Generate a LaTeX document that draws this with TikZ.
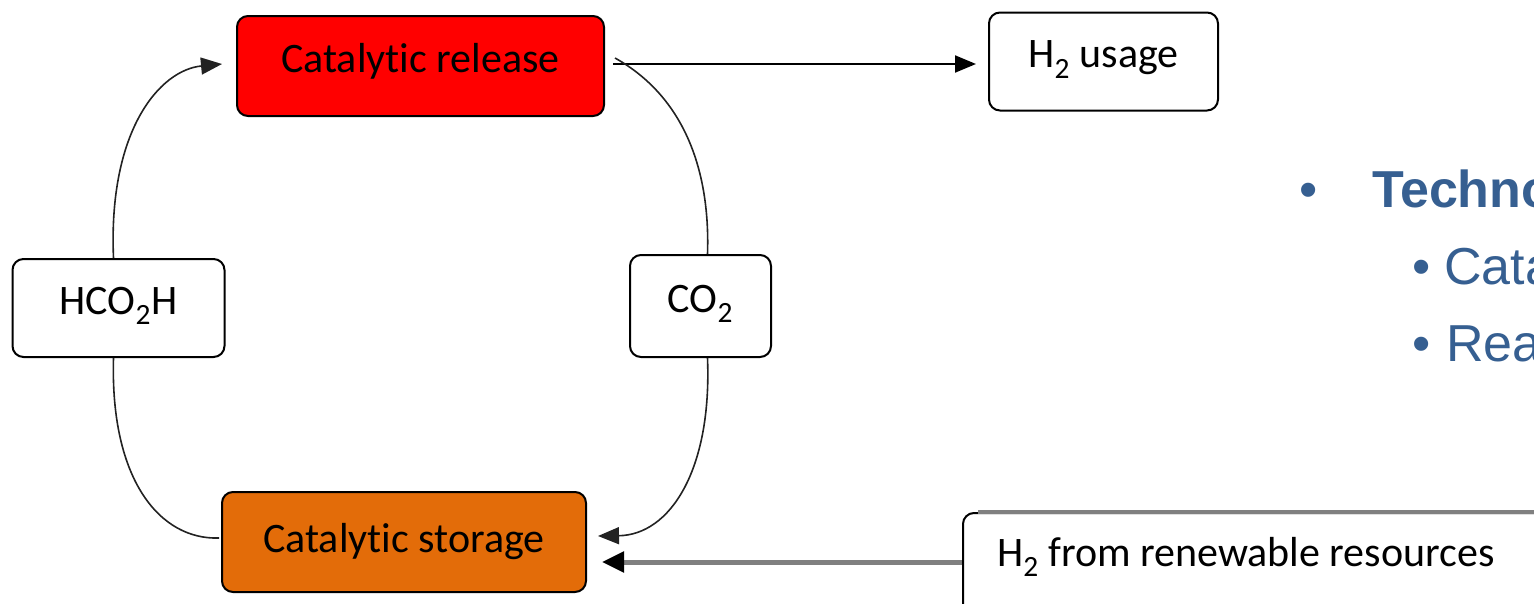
\documentclass[tikz,border=0pt]{standalone}
\usepackage{fontspec}
\setmainfont{Liberation Sans}
\newfontfamily\boxfont{Carlito}[Ligatures={NoCommon,NoRare,NoContextual},RawFeature={-liga;-dlig;-clig}]
\usetikzlibrary{arrows.meta}
\definecolor{relred}{HTML}{FF0000}
\definecolor{storeorange}{HTML}{E36C09}
\definecolor{txtblue}{HTML}{365F91}
\definecolor{flowgray}{HTML}{808080}
\definecolor{curvegray}{HTML}{222222}
\begin{document}
\begin{tikzpicture}[x=1pt,y=-1pt,
  box/.style={draw=black,line width=2pt,rounded corners=11pt,inner sep=0pt,
    font=\boxfont\fontsize{42}{48}\selectfont,text height=22pt,text depth=10pt},
  boxtext/.style={inner sep=0pt,anchor=base west,font=\boxfont\fontsize{42}{48}\selectfont},
  curve/.style={draw=curvegray,line width=1.6pt},
  tip/.style={-{Triangle[length=21pt,width=17pt]}},
  bul/.style={inner sep=0pt,anchor=base west,text=txtblue,font=\fontsize{52}{60}\selectfont}
]
\useasboundingbox (0,0) rectangle (1534,603);

% boxes
\node[box,fill=relred,minimum width=367pt,minimum height=100pt] (rel) at (420.5,66) {Catalytic release};
\node[box,fill=white,minimum width=229pt,minimum height=98pt] (use) at (1103.5,61.5) {H\textsubscript{2} usage};
\node[box,fill=white,minimum width=212pt,minimum height=98pt] (hco) at (118.5,308) {HCO\textsubscript{2}H};
\node[box,fill=white,minimum width=141pt,minimum height=102pt] (co) at (700.5,306) {CO\textsubscript{2}};
\node[box,fill=storeorange,minimum width=364pt,minimum height=100pt,text height=26pt,text depth=6pt] (sto) at (404,542) {Catalytic storage};
\node[box,fill=white,minimum width=674pt,minimum height=134pt] (ren) at (1300,580) {};
\draw[flowgray,line width=4pt] ([xshift=16pt]ren.north west) -- (ren.north east);
\node[boxtext] (rentext) at (997,566) {H\textsubscript{2} from renewable resources};

% connectors
\draw[black,line width=2pt,tip] ([xshift=8pt,yshift=2pt]rel.east) -- ([xshift=-12pt,yshift=-2.5pt]use.west);
\draw[flowgray,line width=5pt,-{Triangle[length=22pt,width=20pt,color=black]}] (ren.west |- 0,562) -- ([xshift=15pt]sto.east |- 0,562);
\draw[curve,tip] ([xshift=-5pt]hco.north) .. controls (108,130) and (160,70) .. ([xshift=-14pt,yshift=2pt]rel.west);
\draw[curve] ([xshift=-5pt]hco.south) .. controls (110,480) and (160,540) .. ([xshift=-2pt,yshift=4pt]sto.west);
\draw[curve] ([xshift=10pt,yshift=8pt]rel.east) .. controls (690,100) and (710,180) .. ([xshift=7pt]co.north);
\draw[curve,tip] ([xshift=7pt]co.south) .. controls (712,470) and (670,535) .. ([xshift=11pt,yshift=6pt]sto.east);

% bullet text
\node[bul] (b1) at (1299,207) {•};
\node[bul,font=\bfseries\fontsize{52}{60}\selectfont] (t1) at (1372,207) {Techno};
\node[bul] (b2) at (1412,284) {•};
\node[bul] (t2) at (1444,284) {Cata};
\node[bul] (b3) at (1412,361) {•};
\node[bul] (t3) at (1446,361) {Rea};
\end{tikzpicture}
\end{document}
